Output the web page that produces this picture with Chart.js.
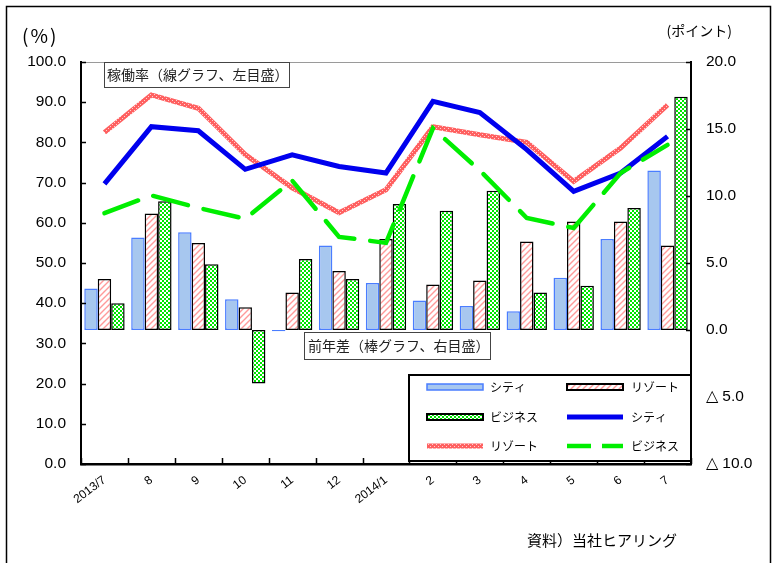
<!DOCTYPE html>
<html><head><meta charset="utf-8">
<script src="https://cdn.jsdelivr.net/npm/chart.js@4.4.1/dist/chart.umd.min.js"></script>
<style>html,body{margin:0;padding:0;background:#fff}canvas{display:block}</style>
</head><body>
<canvas id="c" width="774" height="563"></canvas>
<script>
const categories = ['2013/7','8','9','10','11','12','2014/1','2','3','4','5','6','7'];
// 前年差 (right axis, points)
const cityDiff   = [3.1, 6.9, 7.3, 2.3, -0.1, 6.3, 3.5, 2.2, 1.8, 1.4, 3.9, 6.8, 11.9];
const resortDiff = [3.8, 8.7, 6.5, 1.7, 2.8, 4.4, 6.8, 3.4, 3.7, 6.6, 8.1, 8.1, 6.3];
const bizDiff    = [2.0, 9.6, 4.9, -4.0, 5.3, 3.8, 9.4, 8.9, 10.4, 2.8, 3.3, 9.1, 17.4];
// 稼働率 (left axis, %)
const cityRate   = [69.7, 83.9, 82.9, 73.3, 76.9, 74.0, 72.4, 90.2, 87.4, 78.2, 67.8, 72.4, 81.5];
const resortRate = [82.5, 91.8, 88.5, 77.0, 68.7, 62.5, 68.2, 83.9, 81.9, 80.0, 70.3, 78.6, 89.3];
const bizRate    = [62.4, 66.8, 63.7, 61.0, 70.5, 56.5, 55.0, 83.5, 73.0, 61.2, 58.7, 72.4, 79.4];
const leftTicks = [0,10,20,30,40,50,60,70,80,90,100];
const rightTicks = [-10,-5,0,5,10,15,20];
const seriesNames = ['シティ','リゾート','ビジネス'];

const canvas = document.getElementById('c');
const mainCtx = canvas.getContext('2d');
function pattern(w,h,draw){const c=document.createElement('canvas');c.width=w;c.height=h;const x=c.getContext('2d');draw(x);return mainCtx.createPattern(c,'repeat');}
const hatch = pattern(6,6,x=>{x.fillStyle='#fff';x.fillRect(0,0,6,6);x.strokeStyle='#ff9a9a';x.lineWidth=1.4;x.beginPath();x.moveTo(0,6);x.lineTo(6,0);x.moveTo(-1,1);x.lineTo(1,-1);x.moveTo(5,7);x.lineTo(7,5);x.stroke();});
const checker = pattern(4,4,x=>{x.fillStyle='#00e600';x.fillRect(0,0,4,4);x.fillStyle='#fff';x.fillRect(0,0,2,2);x.fillRect(2,2,2,2);});
const dotted = pattern(4,4,x=>{x.fillStyle='#ff6060';x.fillRect(0,0,4,4);x.fillStyle='#ffd0d0';x.fillRect(0,0,1,1);x.fillRect(2,2,1,1);});

const JP = "'Noto Sans CJK JP', sans-serif";
const NUM = "'Liberation Sans', Arial, sans-serif";

const extras = {
  id:'extras',
  beforeDraw(chart){
    const c=chart.ctx; c.save(); c.fillStyle='#fff'; c.fillRect(0,0,chart.width,chart.height); c.restore();
  },
  afterDraw(chart){
    const c=chart.ctx, a=chart.chartArea, sx=chart.scales.x, yl=chart.scales.yL, yr=chart.scales.yR;
    c.save();
    // frame
    c.strokeStyle='#000'; c.lineWidth=1.5; c.strokeRect(6.5,6.5,764,620);
    // top border of plot
    c.strokeStyle='#9a9a9a'; c.lineWidth=1; c.beginPath(); c.moveTo(a.left,a.top+0.5); c.lineTo(a.right,a.top+0.5); c.stroke();
    // inward ticks
    c.strokeStyle='#000'; c.lineWidth=1.5; c.beginPath();
    leftTicks.forEach(v=>{const y=Math.round(yl.getPixelForValue(v))+0.5; c.moveTo(a.left,y); c.lineTo(a.left+5,y);});
    rightTicks.forEach(v=>{const y=Math.round(yr.getPixelForValue(v))+0.5; c.moveTo(a.right,y); c.lineTo(a.right-5,y);});
    const step = sx.getPixelForValue(1)-sx.getPixelForValue(0);
    for(let i=0;i<=categories.length;i++){const x=Math.round(sx.getPixelForValue(0)-step/2+i*step)+0.5; c.moveTo(x,a.bottom); c.lineTo(x,a.bottom-6);}
    c.stroke();
    // annotation boxes
    c.font='14px '+JP; c.textBaseline='middle'; c.textAlign='left';
    c.fillStyle='#fff'; c.fillRect(104,62,185,25); c.strokeStyle='#444'; c.lineWidth=1; c.strokeRect(104.5,62.5,185,25);
    c.fillStyle='#222'; c.fillText('稼働率（線グラフ、左目盛）',107,75);
    c.fillStyle='#fff'; c.fillRect(304,332,186,27); c.strokeRect(304.5,332.5,186,27);
    c.fillStyle='#222'; c.fillText('前年差（棒グラフ、右目盛）',308,346);
    // legend
    c.fillStyle='#fff'; c.fillRect(408,374,283,87); c.strokeStyle='#000'; c.lineWidth=2; c.strokeRect(409,375,282,86);
    const colX=[427,567], textX=[490,631], rowY=[387,417,446];
    const ds=chart.data.datasets;
    c.font='12px '+JP;
    ds.forEach((set,k)=>{
      const col=k%2,row=Math.floor(k/2),x=colX[col],y=rowY[row];
      if(set.type==='bar'){
        c.fillStyle=set.backgroundColor; c.fillRect(x,y-3,56,6);
        c.strokeStyle=set.borderColor; c.lineWidth=k===0?1.5:2; c.strokeRect(x,y-3,56,6);
      } else {
        c.strokeStyle=set.borderColor; c.lineWidth=set.borderWidth; c.setLineDash(set.borderDash?[24,11]:[]);
        c.beginPath(); c.moveTo(x,y); c.lineTo(x+56,y); c.stroke(); c.setLineDash([]);
      }
      c.fillStyle='#000'; c.fillText(set.label,textX[col],y);
    });
    // axis titles & source
    c.fillStyle='#000';
    c.font='19px '+JP; c.letterSpacing='2px'; c.fillText('(%)',22,36); c.letterSpacing='0px';
    c.font='14px '+JP; c.textAlign='right'; c.fillText('(ポイント)',732,31);
    c.textAlign='left'; c.font='15px '+JP; c.fillText('資料）当社ヒアリング',527,540);
    c.restore();
  }
};

new Chart(canvas,{
  data:{
    labels:categories,
    datasets:[
      {type:'bar',label:seriesNames[0],data:cityDiff,yAxisID:'yR',order:2,backgroundColor:'#a7c7ef',borderColor:'#4a7dff',borderWidth:1.5,borderSkipped:false},
      {type:'bar',label:seriesNames[1],data:resortDiff,yAxisID:'yR',order:2,backgroundColor:hatch,borderColor:'#000',borderWidth:1.5,borderSkipped:false},
      {type:'bar',label:seriesNames[2],data:bizDiff,yAxisID:'yR',order:2,backgroundColor:checker,borderColor:'#000',borderWidth:1.5,borderSkipped:false},
      {type:'line',label:seriesNames[0],data:cityRate,yAxisID:'yL',order:1,borderColor:'#0000ee',borderWidth:5,pointRadius:0,tension:0,fill:false},
      {type:'line',label:seriesNames[1],data:resortRate,yAxisID:'yL',order:1,borderColor:dotted,borderWidth:5,pointRadius:0,tension:0,fill:false},
      {type:'line',label:seriesNames[2],data:bizRate,yAxisID:'yL',order:0,borderColor:'#00ee00',borderWidth:4.5,borderDash:[36,16],borderCapStyle:'round',pointRadius:0,tension:0,fill:false}
    ]
  },
  options:{
    responsive:false, animation:false, devicePixelRatio:1,
    layout:{padding:{top:62,left:0,right:0,bottom:0}},
    plugins:{legend:{display:false},tooltip:{enabled:false}},
    datasets:{bar:{categoryPercentage:0.86,barPercentage:1.0}},
    scales:{
      x:{type:'category',offset:true,
        grid:{display:false,drawTicks:false},
        border:{display:true,color:'#000',width:2.5},
        ticks:{color:'#000',font:{family:NUM,size:12},minRotation:37,maxRotation:37,autoSkip:false,padding:9},
        afterFit(s){s.height=99;}},
      yL:{type:'linear',position:'left',min:0,max:100,
        grid:{display:false,drawTicks:false},
        border:{display:true,color:'#000',width:2},
        ticks:{stepSize:10,color:'#000',font:{family:NUM,size:15.5},padding:15,callback:v=>Number(v).toFixed(1)},
        afterFit(s){s.width=81;}},
      yR:{type:'linear',position:'right',min:-10,max:20,
        grid:{display:false,drawTicks:false},
        border:{display:true,color:'#000',width:2},
        ticks:{stepSize:5,color:'#000',font:{family:NUM,size:15.5},padding:15,callback:v=>v<0?'△ '+Math.abs(v).toFixed(1):Number(v).toFixed(1)},
        afterFit(s){s.width=83;}}
    }
  },
  plugins:[extras]
});
</script>
</body></html>
